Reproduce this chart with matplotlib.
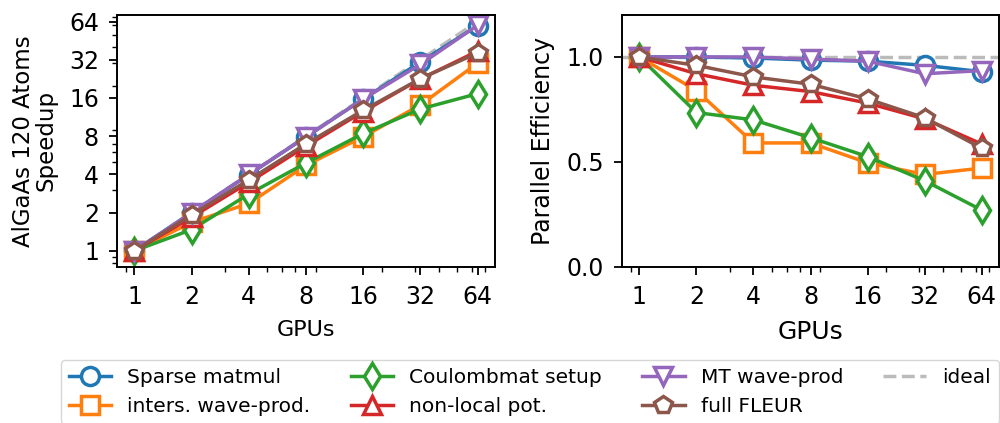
import numpy as np
import matplotlib
matplotlib.use('Agg')
import matplotlib.pyplot as plt
from matplotlib.ticker import NullFormatter

gpus = [1, 2, 4, 8, 16, 32, 64]
tick_labels = ['1', '2', '4', '8', '16', '32', '64']

labels = ['Sparse matmul', 'inters. wave-prod.', 'Coulombmat setup',
          'non-local pot.', 'MT wave-prod', 'full FLEUR']
markers = ['o', 's', 'd', '^', 'v', 'p']

# speedup
speedup_sparse = [1.0, 2.0, 3.98, 7.9, 15.7, 30.7, 59.5]
speedup_inters = [1.0, 1.68, 2.36, 4.72, 7.92, 14.1, 30.1]
speedup_coulomb = [1.0, 1.47, 2.8, 4.92, 8.4, 13.1, 17.3]
speedup_nonlocal = [1.0, 1.84, 3.46, 6.68, 12.5, 22.6, 37.4]
speedup_mt = [1.0, 2.0, 4.0, 7.9, 15.7, 29.4, 59.8]
speedup_full = [1.0, 1.92, 3.62, 6.96, 12.8, 22.7, 36.2]

# parallel efficiency
eff_sparse = [1.0, 1.0, 0.995, 0.985, 0.98, 0.96, 0.93]
eff_inters = [1.0, 0.84, 0.59, 0.59, 0.495, 0.44, 0.47]
eff_coulomb = [1.0, 0.735, 0.70, 0.615, 0.525, 0.41, 0.27]
eff_nonlocal = [1.0, 0.92, 0.865, 0.835, 0.78, 0.705, 0.585]
eff_mt = [1.0, 1.0, 1.0, 0.99, 0.98, 0.92, 0.935]
eff_full = [1.0, 0.96, 0.905, 0.87, 0.80, 0.71, 0.565]

speedups = [speedup_sparse, speedup_inters, speedup_coulomb,
            speedup_nonlocal, speedup_mt, speedup_full]
effs = [eff_sparse, eff_inters, eff_coulomb, eff_nonlocal, eff_mt, eff_full]

fig = plt.figure(figsize=(10, 4.23), dpi=100)
ax1 = fig.add_axes([0.117, 0.3695, 0.378, 0.595])
ax2 = fig.add_axes([0.622, 0.3695, 0.377, 0.595])

style = dict(linewidth=2.5, markersize=13, markeredgewidth=2.5,
             markerfacecolor='white')

ax1.plot(gpus, gpus, '--', color='#bbbbbb', linewidth=2.5, zorder=1)
for i in range(6):
    ax1.plot(gpus, speedups[i], marker=markers[i], color='C%d' % i,
             label=labels[i], zorder=2, **style)
for i in range(6):
    ax2.plot(gpus, effs[i], marker=markers[i], color='C%d' % i,
             zorder=2, **style)
ideal = ax2.axhline(1.0, linestyle='--', color='#bbbbbb', linewidth=2.5,
                    zorder=1, label='ideal')

for ax in (ax1, ax2):
    ax.set_xscale('log')
    ax.set_xticks(gpus)
    ax.set_xticklabels(tick_labels)
    ax.xaxis.set_minor_formatter(NullFormatter())
    ax.set_xlim(0.81, 79)
    ax.tick_params(which='major', labelsize=17, length=6, width=1.3, pad=7)
    ax.tick_params(which='minor', length=3.5, width=1)
    for s in ax.spines.values():
        s.set_linewidth(1.4)

ax1.set_yscale('log')
ax1.set_yticks(gpus)
ax1.set_yticklabels(tick_labels)
ax1.yaxis.set_minor_formatter(NullFormatter())
ax1.set_ylim(0.75, 72)
ax1.set_xlabel('GPUs', fontsize=16, labelpad=8)
ax1.set_ylabel('AlGaAs 120 Atoms\nSpeedup', fontsize=16.5, linespacing=1.0,
               labelpad=8)

ax2.set_ylim(0, 1.2)
ax2.set_yticks([0.0, 0.5, 1.0])
ax2.set_xlabel('GPUs', fontsize=18, labelpad=8)
ax2.set_ylabel('Parallel Efficiency', fontsize=17, labelpad=8)

handles, _ = ax1.get_legend_handles_labels()
handles.append(ideal)
fig.legend(handles=handles, labels=labels + ['ideal'], ncol=4,
           loc='upper left', bbox_to_anchor=(0.061, 0.149),
           borderaxespad=0, fontsize=14.5, handlelength=2.1,
           columnspacing=2.0)

fig.savefig('out.png', dpi=100)
